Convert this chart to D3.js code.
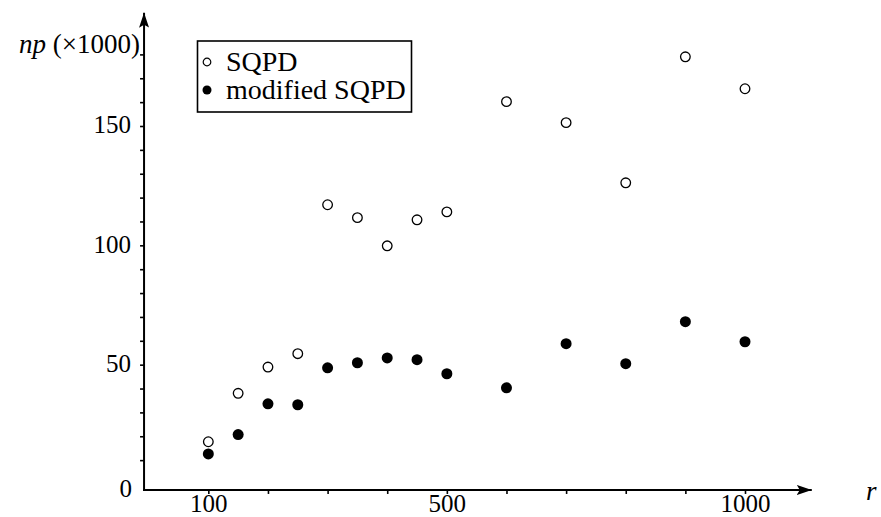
<!DOCTYPE html>
<html>
<head>
<meta charset="utf-8">
<script src="https://cdn.jsdelivr.net/npm/d3@7"></script>
<style>
  html, body { margin: 0; padding: 0; background: #fff; }
  svg { display: block; }
  svg text { font-family: "Liberation Serif", "Times New Roman", serif; fill: #000; }
</style>
</head>
<body>
<svg id="chart"></svg>
<script>
// data (np in thousands)
const rValues = [100, 150, 200, 250, 300, 350, 400, 450, 500, 600, 700, 800, 900, 1000];
const sqpd = [17.7, 38, 49, 54.6, 117, 111.6, 99.8, 110.7, 114, 160.2, 151.4, 126.2, 179, 165.6];
const modSqpd = [12.6, 20.7, 33.6, 33.2, 48.7, 50.8, 52.8, 52.1, 46.2, 40.3, 58.8, 50.4, 68, 59.6];
const xTicks = [100, 200, 300, 400, 500, 600, 700, 800, 900, 1000];
const xLabels = [100, 500, 1000];
const yTicks = d3.range(10, 190, 10);
const yLabels = [50, 100, 150];
const legendNames = ['SQPD', 'modified SQPD'];

const width = 881;
const height = 517;

const svg = d3.select('#chart')
    .attr('width', width)
    .attr('height', height);

// scales
const x = d3.scaleLinear().domain([0, 1000]).range([148.7, 745]);
const y = d3.scaleLinear().domain([0, 150]).range([484, 126]);

// arrow head
svg.append('defs').append('marker')
    .attr('id', 'arrow')
    .attr('viewBox', '0 0 15 10')
    .attr('refX', 15)
    .attr('refY', 5)
    .attr('markerWidth', 15)
    .attr('markerHeight', 10)
    .attr('markerUnits', 'userSpaceOnUse')
    .attr('orient', 'auto')
    .append('path')
    .attr('d', 'M0,0 L15,5 L0,10 L3,5 Z')
    .attr('fill', '#000');

// x axis
const xAxis = d3.axisBottom(x)
    .tickValues(xTicks)
    .tickSize(4)
    .tickPadding(6)
    .tickFormat(d => xLabels.includes(d) ? d : '');

const gx = svg.append('g')
    .attr('transform', `translate(0, ${y(-2.5)})`)
    .call(xAxis)
    .attr('font-family', null);
gx.select('.domain').remove();
gx.selectAll('.tick line').attr('stroke-width', 1.6);
gx.selectAll('.tick text')
    .attr('font-size', 25)
    .attr('y', 22)
    .attr('dy', null);

// y axis
const yAxis = d3.axisLeft(y)
    .tickValues(yTicks)
    .tickSize(4)
    .tickPadding(9)
    .tickFormat(d => yLabels.includes(d) ? d : '');

const gy = svg.append('g')
    .attr('transform', `translate(${x(-7.8)}, 0)`)
    .call(yAxis)
    .attr('font-family', null);
gy.select('.domain').remove();
gy.selectAll('.tick line').attr('stroke-width', 1.6);
gy.selectAll('.tick text')
    .attr('font-size', 25)
    .attr('dy', '0.27em');

// axis lines with arrows
svg.append('line')
    .attr('x1', x(-7.8) - 1).attr('y1', y(-2.5))
    .attr('x2', x(1112)).attr('y2', y(-2.5))
    .attr('stroke', '#000').attr('stroke-width', 2)
    .attr('marker-end', 'url(#arrow)');

svg.append('line')
    .attr('x1', x(-7.8)).attr('y1', y(-2.5) + 1)
    .attr('x2', x(-7.8)).attr('y2', y(197.5))
    .attr('stroke', '#000').attr('stroke-width', 2)
    .attr('marker-end', 'url(#arrow)');

// zero label at the corner
svg.append('text')
    .attr('x', x(-7.8) - 12)
    .attr('y', y(-2.5) + 7)
    .attr('text-anchor', 'end')
    .attr('font-size', 25)
    .text('0');

// axis titles
const yTitle = svg.append('text')
    .attr('x', x(-7.8) - 4)
    .attr('y', 53)
    .attr('text-anchor', 'end')
    .attr('font-size', 27);
yTitle.append('tspan').attr('font-style', 'italic').text('np');
yTitle.append('tspan').text(' (×1000)');

svg.append('text')
    .attr('x', 866)
    .attr('y', 500)
    .attr('font-size', 27)
    .attr('font-style', 'italic')
    .text('r');

// points
svg.append('g').selectAll('circle')
    .data(rValues)
    .enter()
    .append('circle')
    .attr('cx', d => x(d))
    .attr('cy', (d, i) => y(sqpd[i]))
    .attr('r', 4.8)
    .attr('fill', '#fff')
    .attr('stroke', '#000')
    .attr('stroke-width', 1.3);

svg.append('g').selectAll('circle')
    .data(rValues)
    .enter()
    .append('circle')
    .attr('cx', d => x(d))
    .attr('cy', (d, i) => y(modSqpd[i]))
    .attr('r', 5.5)
    .attr('fill', '#000');

// legend
const legend = svg.append('g');
legend.append('rect')
    .attr('x', 197.5).attr('y', 41)
    .attr('width', 214).attr('height', 71)
    .attr('fill', '#fff')
    .attr('stroke', '#000')
    .attr('stroke-width', 1.6);

const items = legend.selectAll('g.item')
    .data(legendNames)
    .enter()
    .append('g')
    .attr('class', 'item')
    .attr('transform', (d, i) => `translate(207, ${62 + i * 28})`);

items.append('circle')
    .attr('r', (d, i) => i === 0 ? 3.8 : 4.5)
    .attr('fill', (d, i) => i === 0 ? '#fff' : '#000')
    .attr('stroke', '#000')
    .attr('stroke-width', (d, i) => i === 0 ? 1.2 : 0);

items.append('text')
    .attr('x', 19)
    .attr('y', 9)
    .attr('font-size', 28)
    .text(d => d);
</script>
</body>
</html>
